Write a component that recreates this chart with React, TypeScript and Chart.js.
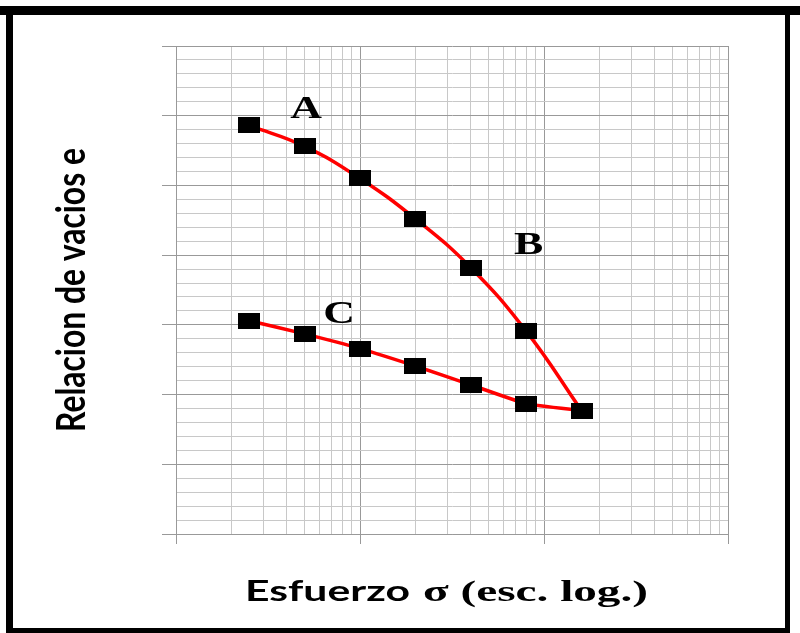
import { useEffect, useRef } from "react";
import { Chart, registerables } from "chart.js";

Chart.register(...registerables);

// Applied stress (kPa), doubled at each load step
const stressLevels = [25, 50, 100, 200, 400, 800, 1600];
// Void ratio while loading (branch A–B)
const voidRatioLoading = [0.886, 0.856, 0.81, 0.752, 0.682, 0.591, 0.477];
// Void ratio while unloading back to the first stress (branch C)
const voidRatioUnloading = [0.606, 0.587, 0.566, 0.541, 0.514, 0.487, 0.477];

// Log axis spans three decades
const xDecades = [10, 100, 1000, 10000];
// Void-ratio axis: range and minor step (major line every 5 steps)
const yRange = [0.3, 1.0];
const yMinorStep = 0.02;

// Branch letters and where they sit (stress, void ratio)
const branchLetters = ["A", "B", "C"];
const branchLetterStress = [51, 826, 77];
const branchLetterVoid = [0.897, 0.702, 0.603];

const xTitleSans = "Esfuerzo";
const xTitleSerif = "σ (esc. log.)";
const yTitle = "Relacion de vacios e";

const MAJOR = "#999999";
const MINOR = "#c8c8c8";
const STRETCH = 1.37;

const xTickValues: number[] = [];
for (let d = 0; d < xDecades.length - 1; d++) {
  for (let m = 1; m <= 9; m++) xTickValues.push(m * xDecades[d]);
}
xTickValues.push(xDecades[xDecades.length - 1]);

const yTickValues: number[] = [];
const ySteps = Math.round((yRange[1] - yRange[0]) / yMinorStep);
for (let i = 0; i <= ySteps; i++) {
  yTickValues.push(Math.round((yRange[0] + i * yMinorStep) * 1000) / 1000);
}

const isDecade = (v: number) => Math.abs(Math.log10(v) - Math.round(Math.log10(v))) < 1e-9;
const isMajorY = (v: number) => Math.round((v - yRange[0]) / yMinorStep) % 5 === 0;

const decorations = {
  id: "decorations",
  beforeDraw(chart: any) {
    const ctx = chart.ctx;
    ctx.save();
    ctx.fillStyle = "#ffffff";
    ctx.fillRect(0, 0, chart.width, chart.height);
    ctx.restore();
  },
  afterDraw(chart: any) {
    const ctx = chart.ctx as CanvasRenderingContext2D;
    const xs = chart.scales.x;
    const ys = chart.scales.y;
    ctx.save();
    ctx.fillStyle = "#000000";

    // Branch letters
    ctx.font = "bold 32px 'Liberation Serif', 'Times New Roman', serif";
    ctx.textAlign = "center";
    ctx.textBaseline = "alphabetic";
    branchLetters.forEach((t, i) => {
      const px = xs.getPixelForValue(branchLetterStress[i]);
      const py = ys.getPixelForValue(branchLetterVoid[i]);
      ctx.save();
      ctx.translate(px, py);
      ctx.scale(STRETCH, 1);
      ctx.fillText(t, 0, 0);
      ctx.restore();
    });

    // Horizontal axis title: sans word followed by serif part
    ctx.textAlign = "left";
    ctx.font = "bold 28px Lato, 'Open Sans', sans-serif";
    const wSans = ctx.measureText(xTitleSans).width;
    ctx.save();
    ctx.translate(245, 601);
    ctx.scale(165 / wSans, 1);
    ctx.fillText(xTitleSans, 0, 0);
    ctx.restore();
    ctx.font = "bold 30px 'Liberation Serif', 'Times New Roman', serif";
    const wSerif = ctx.measureText(xTitleSerif).width;
    ctx.save();
    ctx.translate(423, 601);
    ctx.scale(225 / wSerif, 1);
    ctx.fillText(xTitleSerif, 0, 0);
    ctx.restore();

    // Vertical axis title, rotated
    ctx.font = "bold 30px Lato, 'Open Sans', sans-serif";
    const wy = ctx.measureText(yTitle).width;
    const size = (30 * 284) / wy;
    ctx.font = `bold ${size}px Lato, 'Open Sans', sans-serif`;
    const sx = 29 / (0.7165 * size);
    ctx.save();
    ctx.translate(85, 432);
    ctx.scale(sx, 1);
    ctx.rotate(-Math.PI / 2);
    ctx.fillText(yTitle, 0, 0);
    ctx.restore();

    // Black frame
    ctx.fillRect(0, 6, 800, 9);
    ctx.fillRect(6, 6, 7, 627);
    ctx.fillRect(785, 6, 5, 627);
    ctx.fillRect(6, 628, 784, 5);
    ctx.restore();
  },
};

export default function App() {
  const ref = useRef<HTMLCanvasElement>(null);

  useEffect(() => {
    const canvas = ref.current!;
    const marker = document.createElement("canvas");
    marker.width = 22;
    marker.height = 16;
    const mctx = marker.getContext("2d")!;
    mctx.fillStyle = "#000000";
    mctx.fillRect(0, 0, 22, 16);

    const toPoints = (vals: number[]) => stressLevels.map((x, i) => ({ x, y: vals[i] }));

    const chart = new Chart(canvas, {
      type: "line",
      data: {
        datasets: [
          {
            label: "Carga",
            data: toPoints(voidRatioLoading),
            borderColor: "#ff0000",
            borderWidth: 3.5,
            tension: 0.45,
            pointStyle: marker,
            pointRadius: 8,
            pointHoverRadius: 8,
            pointBackgroundColor: "#000000",
            pointBorderColor: "#000000",
          },
          {
            label: "Descarga",
            data: toPoints(voidRatioUnloading),
            borderColor: "#ff0000",
            borderWidth: 3.5,
            tension: 0.15,
            pointStyle: marker,
            pointRadius: 8,
            pointHoverRadius: 8,
            pointBackgroundColor: "#000000",
            pointBorderColor: "#000000",
          },
        ],
      } as any,
      options: {
        responsive: false,
        animation: false,
        devicePixelRatio: 1,
        events: [],
        layout: { padding: { left: 162, right: 72, top: 46, bottom: 89 } },
        plugins: { legend: { display: false }, tooltip: { enabled: false } },
        scales: {
          x: {
            type: "logarithmic",
            min: xDecades[0],
            max: xDecades[xDecades.length - 1],
            afterBuildTicks: (scale: any) => {
              scale.ticks = xTickValues.map((value) => ({ value }));
            },
            ticks: { display: false },
            grid: {
              color: (c: any) => (isDecade(c.tick.value) ? MAJOR : MINOR),
              tickColor: (c: any) => (isDecade(c.tick.value) ? MAJOR : "rgba(0,0,0,0)"),
              lineWidth: 1,
              drawTicks: true,
              tickLength: 10,
            },
            border: { display: true, color: MAJOR, width: 1 },
          },
          y: {
            type: "linear",
            min: yRange[0],
            max: yRange[1],
            afterBuildTicks: (scale: any) => {
              scale.ticks = yTickValues.map((value) => ({ value }));
            },
            ticks: { display: false },
            grid: {
              color: (c: any) => (isMajorY(c.tick.value) ? MAJOR : MINOR),
              tickColor: (c: any) => (isMajorY(c.tick.value) ? MAJOR : "rgba(0,0,0,0)"),
              lineWidth: 1,
              drawTicks: true,
              tickLength: 14,
            },
            border: { display: true, color: MAJOR, width: 1 },
          },
        },
      } as any,
      plugins: [decorations],
    });
    return () => chart.destroy();
  }, []);

  return (
    <div style={{ position: "absolute", left: 0, top: 0, width: 800, height: 633 }}>
      <canvas ref={ref} width={800} height={633} style={{ display: "block" }} />
    </div>
  );
}
